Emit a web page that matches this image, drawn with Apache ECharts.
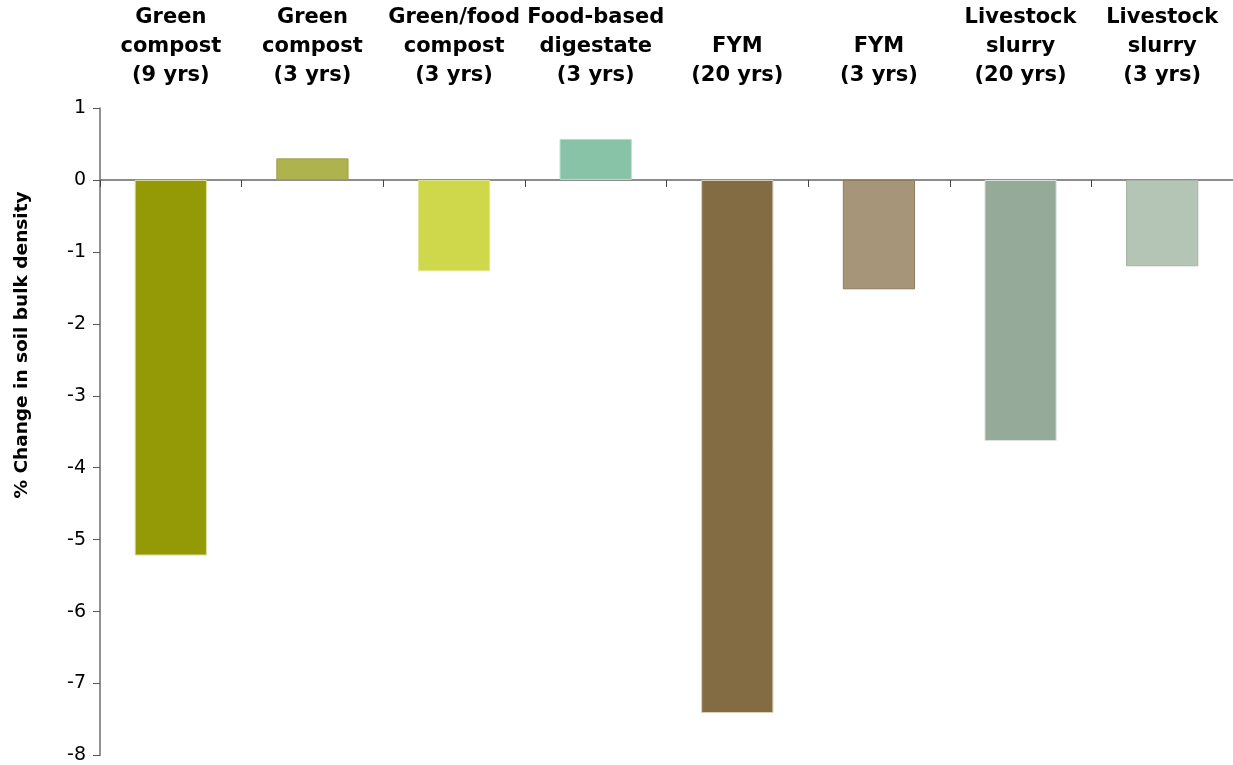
<!DOCTYPE html>
<html>
<head>
<meta charset="utf-8">
<script src="https://cdn.jsdelivr.net/npm/echarts@6/dist/echarts.min.js"></script>
<style>
  html, body { margin: 0; padding: 0; background: #fff; }
  #chart { width: 1233px; height: 765px; }
</style>
</head>
<body>
<div id="chart"></div>
<script>
// Categories (amendment type and trial length)
const categories = [
  'Green\ncompost\n(9 yrs)',
  'Green\ncompost\n(3 yrs)',
  'Green/food\ncompost\n(3 yrs)',
  'Food-based\ndigestate\n(3 yrs)',
  'FYM\n(20 yrs)',
  'FYM\n(3 yrs)',
  'Livestock\nslurry\n(20 yrs)',
  'Livestock\nslurry\n(3 yrs)'
];

// % change in soil bulk density
const values = [-5.22, 0.3, -1.27, 0.57, -7.41, -1.52, -3.63, -1.2];

// Bar fill and outline colours
const barColors = ['#949a05', '#aeb34e', '#cfd84b', '#88c3a8', '#836c43', '#a69578', '#95aa98', '#b4c4b5'];
const barBorders = ['#d9dc9c', '#9ea24a', '#e0e690', '#b6dccb', '#d9cfbf', '#8c7c5e', '#dde5de', '#a4b5a6'];

// Value axis ticks
const yTicks = { min: -8, max: 1, interval: 1 };

const chart = echarts.init(document.getElementById('chart'), null, { renderer: 'canvas' });

const option = {
  animation: false,
  backgroundColor: '#ffffff',
  grid: { left: 100, top: 108, width: 1142, bottom: 9, containLabel: false },
  xAxis: [
    {
      type: 'category',
      data: categories,
      position: 'bottom',
      axisLine: { onZero: true, lineStyle: { color: '#8c8c8c', width: 2 } },
      axisTick: { show: true, length: 7, lineStyle: { color: '#444', width: 1 } },
      axisLabel: { show: false },
      splitLine: { show: false }
    },
    {
      type: 'category',
      data: categories,
      position: 'top',
      axisLine: { show: false, onZero: false },
      axisTick: { show: false },
      axisLabel: {
        show: true,
        interval: 0,
        margin: 18,
        fontFamily: 'DejaVu Sans',
        fontWeight: 'bold',
        fontSize: 21,
        lineHeight: 29,
        color: '#000'
      }
    }
  ],
  yAxis: {
    type: 'value',
    min: yTicks.min,
    max: yTicks.max,
    interval: yTicks.interval,
    axisLine: { show: true, lineStyle: { color: '#6e6e6e', width: 1.5 } },
    axisTick: { show: true, length: 7, lineStyle: { color: '#555' } },
    axisLabel: { margin: 14, fontFamily: 'DejaVu Sans', fontSize: 19, color: '#000' },
    splitLine: { show: false }
  },
  graphic: [
    {
      // rotated value-axis title
      type: 'text',
      x: 22,
      y: 345,
      rotation: Math.PI / 2,
      style: {
        text: '% Change in soil bulk density',
        fontFamily: 'DejaVu Sans',
        fontWeight: 'bold',
        fontSize: 18.5,
        fill: '#000',
        align: 'center',
        verticalAlign: 'middle'
      }
    }
  ],
  series: [
    {
      type: 'bar',
      xAxisIndex: 0,
      barWidth: '51%',
      data: values.map((v, i) => ({
        value: v,
        itemStyle: { color: barColors[i], borderColor: barBorders[i], borderWidth: 1 }
      }))
    }
  ]
};

chart.setOption(option);
</script>
</body>
</html>
